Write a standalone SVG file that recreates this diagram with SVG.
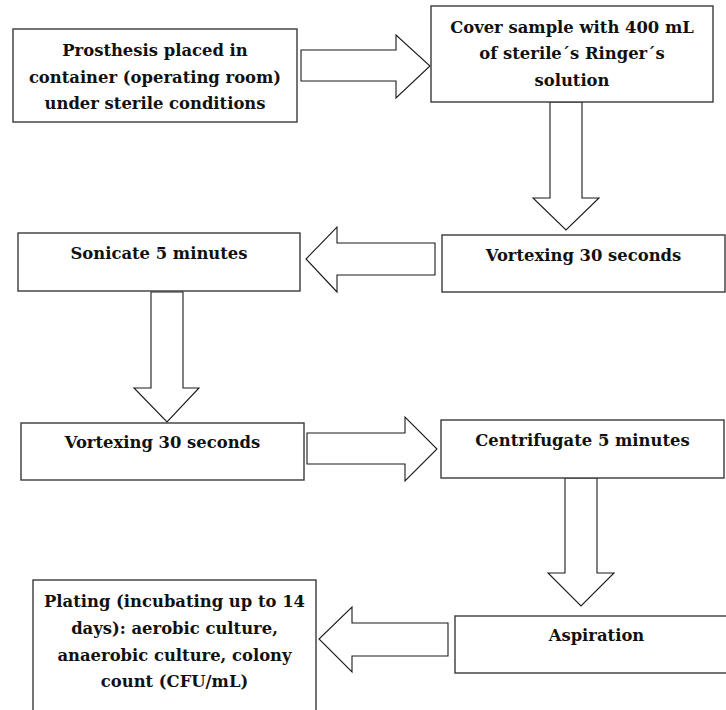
<svg xmlns="http://www.w3.org/2000/svg" width="726" height="710" viewBox="0 0 726 710">
<style>
.box{fill:#fff;stroke:#3a3a3a;stroke-width:1.4}
.arr{fill:#fff;stroke:#1a1a1a;stroke-width:1.1;stroke-linejoin:miter}
.t{font-family:"DejaVu Serif","Liberation Serif",serif;font-weight:bold;font-size:16.4px;fill:#111;text-anchor:middle}
</style>
<rect width="726" height="710" fill="#fff"/>
<g id="connectors">
<polygon class="arr" points="301,50 396,50 396,35 430,66 396,98 396,81 301,81"/>
<polygon class="arr" points="550,102 582,102 582,198 599,198 566,230 533,198 550,198"/>
<polygon class="arr" points="435,243 337,243 337,227 306,259 337,292 337,275 435,275"/>
<polygon class="arr" points="151,292 183,292 183,388 199,388 167,422 134,388 151,388"/>
<polygon class="arr" points="307,433 405,433 405,417 437,449 405,481 405,464 307,464"/>
<polygon class="arr" points="565,478 597,478 597,573 614,573 581,606 548,573 565,573"/>
<polygon class="arr" points="448,623 352,623 352,607 319,639 352,672 352,656 448,656"/>
</g>
<g id="n1">
<rect class="box" x="13" y="29" width="284" height="93"/>
<text class="t" x="155" y="56">Prosthesis placed in</text>
<text class="t" x="155" y="83">container (operating room)</text>
<text class="t" x="155" y="109">under sterile conditions</text>
</g>
<g id="n2">
<rect class="box" x="431" y="6" width="282" height="96"/>
<text class="t" x="572" y="33">Cover sample with 400 mL</text>
<text class="t" x="572" y="59">of sterile´s Ringer´s</text>
<text class="t" x="572" y="86">solution</text>
</g>
<g id="n3">
<rect class="box" x="442" y="235" width="283" height="57"/>
<text class="t" x="583.5" y="261">Vortexing 30 seconds</text>
</g>
<g id="n4">
<rect class="box" x="18" y="233" width="282" height="58"/>
<text class="t" x="159" y="259">Sonicate 5 minutes</text>
</g>
<g id="n5">
<rect class="box" x="21" y="423" width="283" height="57"/>
<text class="t" x="162.5" y="448">Vortexing 30 seconds</text>
</g>
<g id="n6">
<rect class="box" x="441" y="420" width="283" height="58"/>
<text class="t" x="582.5" y="446">Centrifugate 5 minutes</text>
</g>
<g id="n7">
<rect class="box" x="455" y="616" width="283" height="57"/>
<text class="t" x="596.5" y="641">Aspiration</text>
</g>
<g id="n8">
<rect class="box" x="33" y="580" width="283" height="140"/>
<text class="t" x="174.5" y="607">Plating (incubating up to 14</text>
<text class="t" x="174.5" y="634">days): aerobic culture,</text>
<text class="t" x="174.5" y="661">anaerobic culture, colony</text>
<text class="t" x="174.5" y="687">count (CFU/mL)</text>
</g>
</svg>
